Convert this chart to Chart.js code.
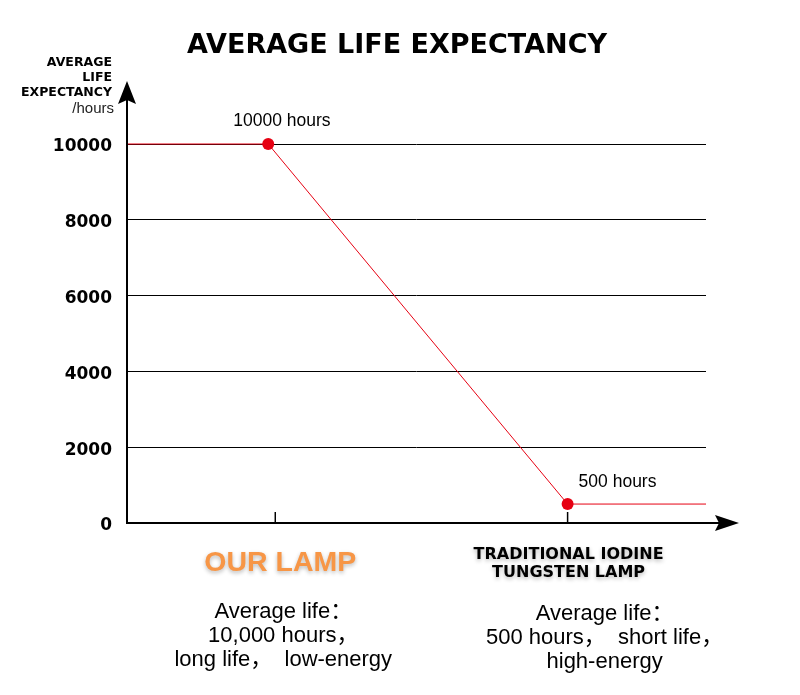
<!DOCTYPE html>
<html>
<head>
<meta charset="utf-8">
<script src="https://cdn.jsdelivr.net/npm/chart.js@4"></script>
<style>
  html, body { margin: 0; padding: 0; background: #fff; }
  #wrap { width: 800px; height: 695px; }
</style>
</head>
<body>
<div id="wrap"><canvas id="lifeChart"></canvas></div>
<script>
// chart values
const titleText = 'AVERAGE LIFE EXPECTANCY';
const yAxisTitle = ['AVERAGE', 'LIFE', 'EXPECTANCY'];
const yAxisUnit = '/hours';
const yTicks = [0, 2000, 4000, 6000, 8000, 10000];
const categories = [['OUR LAMP'], ['TRADITIONAL IODINE', 'TUNGSTEN LAMP']];
const categoryX = [1.05, 3.12];
const descriptions = [
    ['Average life：', '10,000 hours，', 'long life，  low-energy'],
    ['Average life：', '500 hours，  short life，', 'high-energy']
];
const lineX = [0, 1, 3.12, 4.1];
const lifeHours = [10000, 10000, 500, 500];
const pointLabels = ['', '10000 hours', '500 hours', ''];

const RED = '#e60012';
const SANS = '"Liberation Sans", Arial, "Noto Sans CJK SC", sans-serif';
const WIDE = '"DejaVu Sans", "Liberation Sans", sans-serif';

// draws the title, arrowed axes, tick marks and all the side texts
const decorations = {
    id: 'decorations',
    afterDraw(chart) {
        const ctx = chart.ctx;
        const area = chart.chartArea;
        const x = chart.scales.x;
        const y = chart.scales.y;
        const y0 = y.getPixelForValue(0);

        ctx.save();
        ctx.strokeStyle = '#000';
        ctx.fillStyle = '#000';

        // title, fitted to the reference width
        ctx.textAlign = 'center';
        ctx.textBaseline = 'middle';
        ctx.font = 'bold 27px ' + WIDE;
        const tw = ctx.measureText(titleText).width;
        ctx.save();
        ctx.translate(397, 46);
        ctx.scale(420 / tw, 1);
        ctx.fillText(titleText, 0, 0);
        ctx.restore();

        ctx.lineWidth = 2;
        // y axis with arrow
        ctx.beginPath();
        ctx.moveTo(area.left, y0 + 1);
        ctx.lineTo(area.left, 98);
        ctx.stroke();
        ctx.beginPath();
        ctx.moveTo(area.left, 81);
        ctx.lineTo(area.left - 9, 104);
        ctx.lineTo(area.left, 100);
        ctx.lineTo(area.left + 9, 104);
        ctx.closePath();
        ctx.fill();

        // x axis with arrow
        ctx.beginPath();
        ctx.moveTo(area.left - 1, y0);
        ctx.lineTo(722, y0);
        ctx.stroke();
        ctx.beginPath();
        ctx.moveTo(739, y0);
        ctx.lineTo(715, y0 - 8);
        ctx.lineTo(719, y0);
        ctx.lineTo(715, y0 + 8);
        ctx.closePath();
        ctx.fill();

        // tick marks above the x axis
        ctx.lineWidth = 1.5;
        categoryX.forEach(v => {
            const px = x.getPixelForValue(v);
            ctx.beginPath();
            ctx.moveTo(px, y0);
            ctx.lineTo(px, y0 - 11);
            ctx.stroke();
        });

        // y axis title
        ctx.textAlign = 'right';
        ctx.font = 'bold 12.5px ' + WIDE;
        yAxisTitle.forEach((t, i) => ctx.fillText(t, 112, 63 + i * 15));
        ctx.font = '15px ' + SANS;
        ctx.fillStyle = '#222';
        ctx.fillText(yAxisUnit, 114, 109);

        // point labels
        const meta = chart.getDatasetMeta(0);
        ctx.fillStyle = '#000';
        ctx.textAlign = 'left';
        ctx.font = '17.5px ' + SANS;
        pointLabels.forEach((t, i) => {
            if (!t) return;
            const p = meta.data[i];
            ctx.fillText(t, p.x + (i === 1 ? -35 : 11), p.y - (i === 1 ? 23 : 22));
        });

        // category names
        ctx.textAlign = 'center';
        ctx.shadowColor = 'rgba(0,0,0,0.28)';
        ctx.shadowBlur = 4;
        ctx.shadowOffsetY = 2;
        ctx.fillStyle = '#f79646';
        ctx.font = 'bold 28.5px ' + SANS;
        ctx.fillText(categories[0][0], x.getPixelForValue(categoryX[0]) + 5, 563);
        ctx.fillStyle = '#000';
        ctx.font = 'bold 16px ' + WIDE;
        categories[1].forEach((t, i) => {
            ctx.fillText(t, x.getPixelForValue(categoryX[1]) + 1, 555 + i * 18);
        });
        ctx.shadowColor = 'transparent';

        // descriptions
        ctx.font = '22px ' + SANS;
        const descX = [x.getPixelForValue(categoryX[0]) + 8, x.getPixelForValue(categoryX[1]) + 37];
        descriptions.forEach((lines, c) => {
            lines.forEach((t, i) => {
                ctx.fillText(t, descX[c], 612 + c * 2 + i * 24);
            });
        });
        ctx.restore();
    }
};

new Chart(document.getElementById('lifeChart'), {
    type: 'line',
    data: {
        datasets: [{
            data: lineX.map((v, i) => ({ x: v, y: lifeHours[i] })),
            borderColor: RED,
            borderWidth: 1,
            pointRadius: lifeHours.map((v, i) => (pointLabels[i] ? 6 : 0)),
            pointBackgroundColor: RED,
            pointBorderWidth: 0,
            tension: 0,
            clip: false
        }]
    },
    options: {
        responsive: true,
        maintainAspectRatio: false,
        animation: false,
        layout: { padding: { left: 0, right: 94, top: 144, bottom: 172 } },
        plugins: {
            legend: { display: false },
            tooltip: { enabled: false }
        },
        scales: {
            x: {
                type: 'linear',
                min: 0,
                max: 4.1,
                display: false
            },
            y: {
                min: 0,
                max: 10000,
                afterBuildTicks: scale => { scale.ticks = yTicks.map(v => ({ value: v })); },
                afterFit: scale => { scale.width = 127; },
                ticks: {
                    color: '#000',
                    padding: 15,
                    labelOffset: 3,
                    callback: v => String(v),
                    font: { family: WIDE, size: 17, weight: 'bold' }
                },
                grid: { color: '#000', lineWidth: 1, drawTicks: false },
                border: { display: false }
            }
        }
    },
    plugins: [decorations]
});
</script>
</body>
</html>
